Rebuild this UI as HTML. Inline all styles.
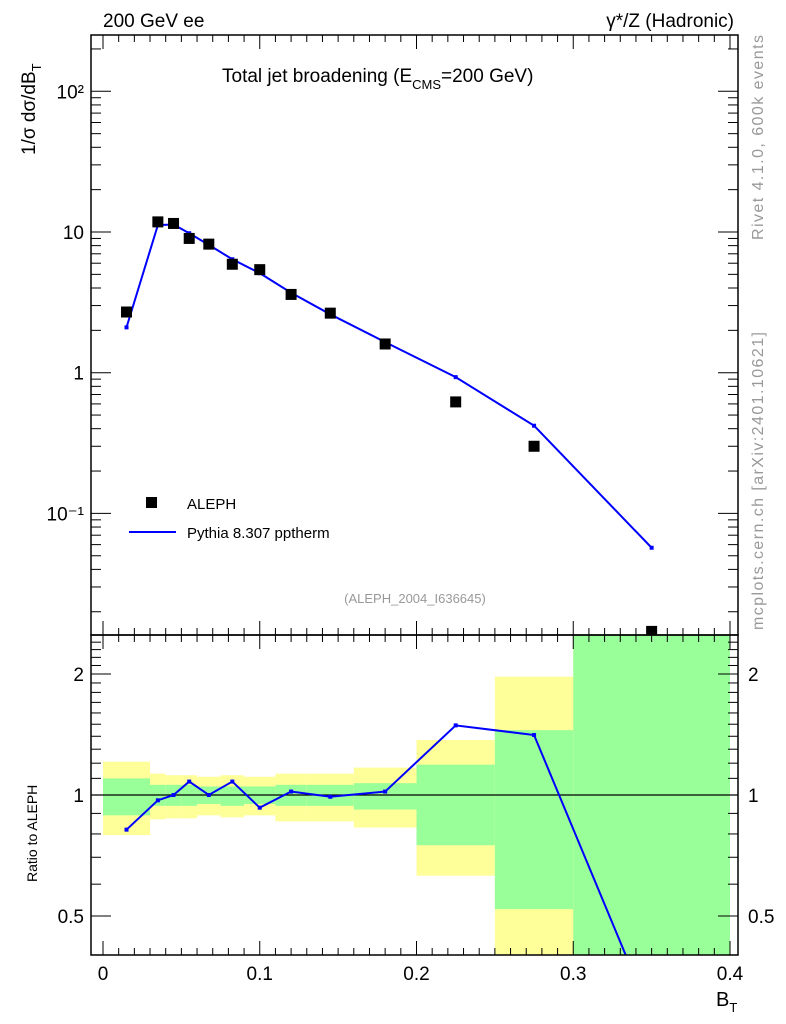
<!DOCTYPE html>
<html><head><meta charset="utf-8"><style>
html,body{margin:0;background:#fff;overflow:hidden;width:786px;height:1024px;}
svg{display:block;}
svg text{font-family:"Liberation Sans",sans-serif;}
</style></head><body>
<svg id="c" width="786" height="1024" xmlns="http://www.w3.org/2000/svg">
<defs>
<clipPath id="cm"><rect x="91" y="35" width="647" height="600"/></clipPath>
<clipPath id="cr"><rect x="91" y="635" width="647" height="320"/></clipPath>
</defs>
<g id="bands" clip-path="url(#cr)"></g>
<g id="marks"></g>
<text x="103" y="27" font-size="19">200 GeV ee</text>
<text x="734" y="27" font-size="19" text-anchor="end">γ*/Z (Hadronic)</text>
<text x="222" y="82" font-size="19">Total jet broadening (E<tspan font-size="13" dy="7">CMS</tspan><tspan dy="-7">=200 GeV)</tspan></text>
<text x="415" y="603" font-size="13" fill="#999" text-anchor="middle">(ALEPH_2004_I636645)</text>
<text transform="translate(763,240) rotate(-90)" font-size="16" fill="#999" textLength="205">Rivet 4.1.0,  600k events</text>
<text transform="translate(763,630) rotate(-90)" font-size="16" fill="#999" textLength="298">mcplots.cern.ch [arXiv:2401.10621]</text>
<text transform="translate(35,155) rotate(-90)" font-size="19">1/σ  dσ/dB<tspan font-size="13" dy="6">T</tspan></text>
<text transform="translate(37,882) rotate(-90)" font-size="14">Ratio to ALEPH</text>
<text x="716" y="1006" font-size="20">B<tspan font-size="13" dy="6">T</tspan></text>
<g>
<rect x="146" y="497" width="11" height="11" fill="#000"/>
<text x="187" y="509" font-size="15">ALEPH</text>
<line x1="129" y1="532" x2="176" y2="532" stroke="#00f" stroke-width="2"/>
<text x="187" y="538" font-size="15">Pythia 8.307 pptherm</text>
</g>
</svg>
<script>
const xs=[0.015,0.035,0.045,0.055,0.0675,0.0825,0.1,0.12,0.145,0.18,0.225,0.275,0.35];
const dataVals=[2.7,11.8,11.5,9.0,8.2,5.9,5.4,3.6,2.65,1.6,0.62,0.30,0.0145];
const mcVals=[2.1,11.2,11.3,9.8,8.1,6.4,5.1,3.7,2.6,1.65,0.93,0.42,0.057];
const ratioVals=[0.82,0.97,1.0,1.08,1.0,1.08,0.93,1.02,0.99,1.02,1.49,1.41,0.28];
const binEdges=[0,0.03,0.04,0.05,0.06,0.075,0.09,0.11,0.13,0.16,0.2,0.25,0.3,0.4];
const yelHi=[1.21,1.13,1.12,1.12,1.11,1.12,1.11,1.13,1.13,1.17,1.37,1.97,3];
const yelLo=[0.795,0.87,0.875,0.875,0.89,0.88,0.89,0.86,0.86,0.83,0.63,0.3,0.2];
const grnHi=[1.10,1.06,1.06,1.06,1.05,1.05,1.05,1.06,1.06,1.07,1.19,1.45,3];
const grnLo=[0.89,0.94,0.94,0.94,0.95,0.94,0.95,0.94,0.94,0.92,0.75,0.52,0.2];
const xTicks=[0,0.1,0.2,0.3,0.4];
const mainTicks=[0.1,1,10,100];
const mainTickLabels=["10⁻¹","1","10","10²"];
const ratioTicks=[0.5,1,2];
const ratioTickLabels=["0.5","1","2"];

const NS="http://www.w3.org/2000/svg";
const marks=document.getElementById('marks');
const bands=document.getElementById('bands');
const X=v=>103+v*1567.5;
const Ym=v=>232-Math.log10(v/10)*140.7;
const Yr=v=>795-Math.log2(v)*121;
function mk(tag,attrs,parent){const e=document.createElementNS(NS,tag);for(const k in attrs)e.setAttribute(k,attrs[k]);(parent||marks).appendChild(e);return e;}

for(let i=0;i<binEdges.length-1;i++){
  const y=mk('rect',{x:X(binEdges[i]),y:Yr(yelHi[i]),width:X(binEdges[i+1])-X(binEdges[i]),height:Yr(yelLo[i])-Yr(yelHi[i]),fill:'#ffff99'},bands);
  
  
  const g=mk('rect',{x:X(binEdges[i]),y:Yr(grnHi[i]),width:X(binEdges[i+1])-X(binEdges[i]),height:Yr(grnLo[i])-Yr(grnHi[i]),fill:'#99ff99'},bands);
  
  
}
const one=mk('line',{x1:91,x2:738,y1:Yr(1),y2:Yr(1),stroke:'#000','stroke-width':1.2});



const gm=mk('g',{'clip-path':'url(#cm)'});
const pl=mk('polyline',{points:xs.map((x,i)=>X(x)+','+Ym(mcVals[i])).join(' '),fill:'none',stroke:'#00f','stroke-width':2},gm);


xs.forEach((x,i)=>{const r=mk('rect',{x:X(x)-2,y:Ym(mcVals[i])-2,width:4,height:4,fill:'#00f'},gm);

});
xs.forEach((x,i)=>{const r=mk('rect',{x:X(x)-5.5,y:Ym(dataVals[i])-5.5,width:11,height:11,fill:'#000'},gm);

});

const gr=mk('g',{'clip-path':'url(#cr)'});
const rl=mk('polyline',{points:xs.map((x,i)=>X(x)+','+Yr(ratioVals[i])).join(' '),fill:'none',stroke:'#00f','stroke-width':2},gr);


xs.forEach((x,i)=>{const r=mk('rect',{x:X(x)-2,y:Yr(ratioVals[i])-2,width:4,height:4,fill:'#00f'},gr);

});

const f1=mk('rect',{x:91,y:35,width:647,height:600,fill:'none',stroke:'#000','stroke-width':1.5});


const f2=mk('rect',{x:91,y:635,width:647,height:320,fill:'none',stroke:'#000','stroke-width':1.5});



for(let v=0;v<=0.4001;v+=0.01){
  const major=Math.abs(v*10-Math.round(v*10))<1e-6;
  const L=major?14:7;
  [[35,1],[635,-1],[635,1],[955,-1]].forEach(([y0,d])=>{
    const t=mk('line',{x1:X(v),x2:X(v),y1:y0,y2:y0+d*L,stroke:'#000','stroke-width':1});
    
    
  });
}
xTicks.forEach(v=>{const t=mk('text',{x:X(v),y:980,'font-size':19,'text-anchor':'middle'});t.textContent=String(v);

});

for(let e=-2;e<=2;e++){for(let m=1;m<=9;m++){const v=m*Math.pow(10,e);const y=Ym(v);if(y<35||y>635)continue;
  const L=m==1?20:10;
  [[91,1],[738,-1]].forEach(([x0,d])=>{const t=mk('line',{x1:x0,x2:x0+d*L,y1:y,y2:y,stroke:'#000'});
  
  });}}
mainTicks.forEach((v,i)=>{const t=mk('text',{x:84,y:Ym(v)+7,'font-size':19,'text-anchor':'end'});t.textContent=mainTickLabels[i];

});

for(let v=0.4;v<=2.5;v+=0.1){const y=Yr(v);const major=ratioTicks.some(r=>Math.abs(r-v)<1e-6);const L=major?20:10;
  [[91,1],[738,-1]].forEach(([x0,d])=>{const t=mk('line',{x1:x0,x2:x0+d*L,y1:y,y2:y,stroke:'#000'});
  
  });}
ratioTicks.forEach((v,i)=>{
  const t=mk('text',{x:84,y:Yr(v)+7,'font-size':19,'text-anchor':'end'});t.textContent=ratioTickLabels[i];
  
  
  const t2=mk('text',{x:748,y:Yr(v)+7,'font-size':19});t2.textContent=ratioTickLabels[i];
  
  
});
</script>
</body></html>
